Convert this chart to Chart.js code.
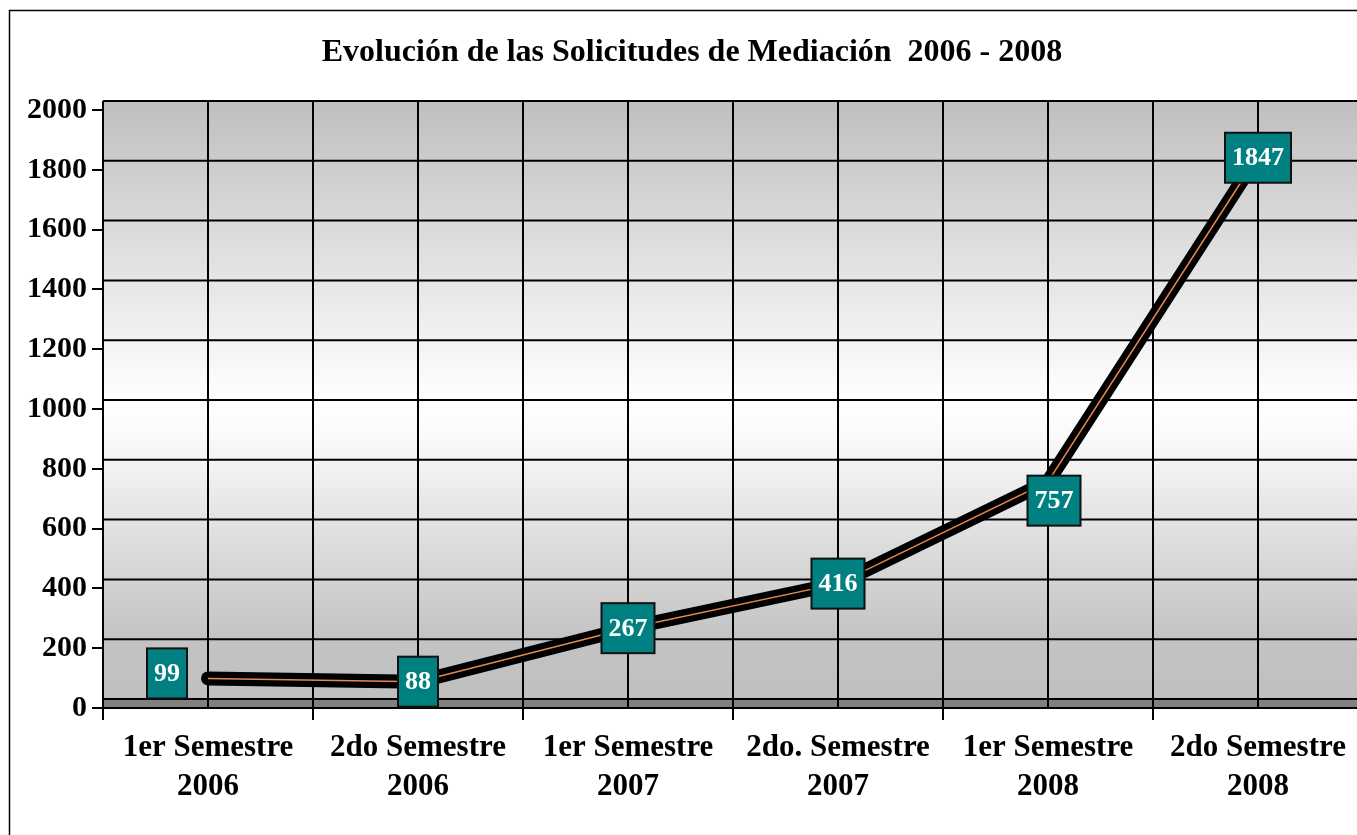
<!DOCTYPE html>
<html>
<head>
<meta charset="utf-8">
<style>
html,body{margin:0;padding:0;overflow:hidden;background:#fff}
canvas{display:block}
</style>
<script src="https://cdn.jsdelivr.net/npm/chart.js@4.4.1/dist/chart.umd.min.js"></script>
</head>
<body>
<canvas id="c" width="1363" height="835" style="width:1363px;height:835px"></canvas>
<script>
// ---- data ----
const chartTitle = 'Evolución de las Solicitudes de Mediación  2006 - 2008';
const categories = [
  ['1er Semestre', '2006'],
  ['2do Semestre', '2006'],
  ['1er Semestre', '2007'],
  ['2do. Semestre', '2007'],
  ['1er Semestre', '2008'],
  ['2do Semestre', '2008']
];
const solicitudes = [99, 88, 267, 416, 757, 1847];
const yTicks = [0, 200, 400, 600, 800, 1000, 1200, 1400, 1600, 1800, 2000];

// ---- styling ----
const FONT = "'Liberation Serif', 'Times New Roman', serif";
const DEPTH = 9;                    // 3D back-wall offset (px)
const tagShift = [[-41, -5], [0, 0], [0, 0], [0, 0], [6, 19], [0, 2]];

const backdrop = {
  id: 'backdrop',
  beforeDraw(chart) {
    const {ctx, chartArea: a, scales: {x, y}} = chart;
    ctx.save();
    ctx.fillStyle = '#fff';
    ctx.fillRect(0, 0, chart.width, chart.height);
    ctx.strokeStyle = '#000';
    ctx.lineWidth = 1.5;
    ctx.strokeRect(9.5, 10.5, chart.width + 20, chart.height + 20);

    const top = y.getPixelForValue(y.max) - DEPTH;
    const floorTop = y.getPixelForValue(0) - DEPTH;
    const bottom = y.getPixelForValue(0);
    const g = ctx.createLinearGradient(0, top, 0, floorTop);
    g.addColorStop(0, '#bfbfbf');
    g.addColorStop(0.5, '#ffffff');
    g.addColorStop(0.56, '#fafafa');
    g.addColorStop(0.9, '#c3c3c3');
    g.addColorStop(1, '#c0c0c0');
    ctx.fillStyle = g;
    ctx.fillRect(a.left, top, a.right - a.left, floorTop - top);
    ctx.fillStyle = '#808080';
    ctx.fillRect(a.left, floorTop, a.right - a.left, bottom - floorTop);

    ctx.strokeStyle = '#000';
    ctx.lineWidth = 2;
    ctx.beginPath();
    for (const v of yTicks) {
      const py = y.getPixelForValue(v) - DEPTH;
      ctx.moveTo(a.left, py);
      ctx.lineTo(a.right, py);
    }
    for (let i = -0.5; i <= categories.length - 0.5; i += 0.5) {
      const px = x.getPixelForValue(i);
      ctx.moveTo(px, top);
      ctx.lineTo(px, bottom);
    }
    ctx.stroke();
    ctx.restore();
  }
};

const valueTags = {
  id: 'valueTags',
  afterDatasetsDraw(chart) {
    const meta = chart.getDatasetMeta(0);
    const ctx = chart.ctx;
    ctx.save();
    ctx.font = 'bold 26px ' + FONT;
    ctx.textAlign = 'center';
    ctx.textBaseline = 'middle';
    meta.data.forEach((pt, i) => {
      const text = String(chart.data.datasets[0].data[i]);
      const w = Math.round(ctx.measureText(text).width + 14);
      const h = 50;
      const cx = pt.x + tagShift[i][0];
      const cy = pt.y + tagShift[i][1];
      ctx.fillStyle = '#008080';
      ctx.fillRect(cx - w / 2, cy - h / 2, w, h);
      ctx.strokeStyle = '#111';
      ctx.lineWidth = 2;
      ctx.strokeRect(cx - w / 2, cy - h / 2, w, h);
      ctx.fillStyle = '#fff';
      ctx.fillText(text, cx, cy + 1);
    });
    ctx.restore();
  }
};

Chart.defaults.font.family = FONT;

new Chart(document.getElementById('c'), {
  type: 'line',
  data: {
    labels: categories,
    datasets: [
      {
        data: solicitudes,
        borderColor: '#000',
        borderWidth: 14,
        borderCapStyle: 'round',
        borderJoinStyle: 'round',
        pointRadius: 0,
        tension: 0,
        fill: false,
        order: 1
      },
      {
        data: solicitudes,
        borderColor: '#e8874a',
        borderWidth: 1.5,
        pointRadius: 0,
        tension: 0,
        fill: false,
        order: 0
      }
    ]
  },
  options: {
    responsive: false,
    animation: false,
    devicePixelRatio: 1,
    layout: {padding: {left: 21, right: 0, top: 0, bottom: 0}},
    plugins: {
      legend: {display: false},
      tooltip: {enabled: false},
      title: {
        display: true,
        text: chartTitle,
        color: '#000',
        font: {family: FONT, size: 32, weight: 'bold', lineHeight: 1.2},
        padding: {top: 34, bottom: 37.6}
      }
    },
    scales: {
      x: {
        offset: true,
        grid: {display: true, drawOnChartArea: false, drawTicks: true, tickLength: 12, offset: true, color: '#000', lineWidth: 2},
        border: {display: true, color: '#000', width: 2},
        ticks: {
          color: '#000',
          font: {family: FONT, size: 31, weight: 'bold', lineHeight: 1.25},
          padding: 9,
          maxRotation: 0,
          autoSkip: false
        },
        afterFit: s => { s.height = 127; }
      },
      y: {
        min: 0,
        max: 2000,
        afterBuildTicks: s => { s.ticks = yTicks.map(v => ({value: v})); },
        grid: {display: true, drawOnChartArea: false, tickLength: 11, color: '#000', lineWidth: 2},
        border: {display: true, color: '#000', width: 2},
        ticks: {
          color: '#000',
          font: {family: FONT, size: 30, weight: 'bold'},
          padding: 5,
          callback: v => String(v)
        },
        afterFit: s => { s.width = 82; }
      }
    }
  },
  plugins: [backdrop, valueTags]
});
</script>
</body>
</html>
